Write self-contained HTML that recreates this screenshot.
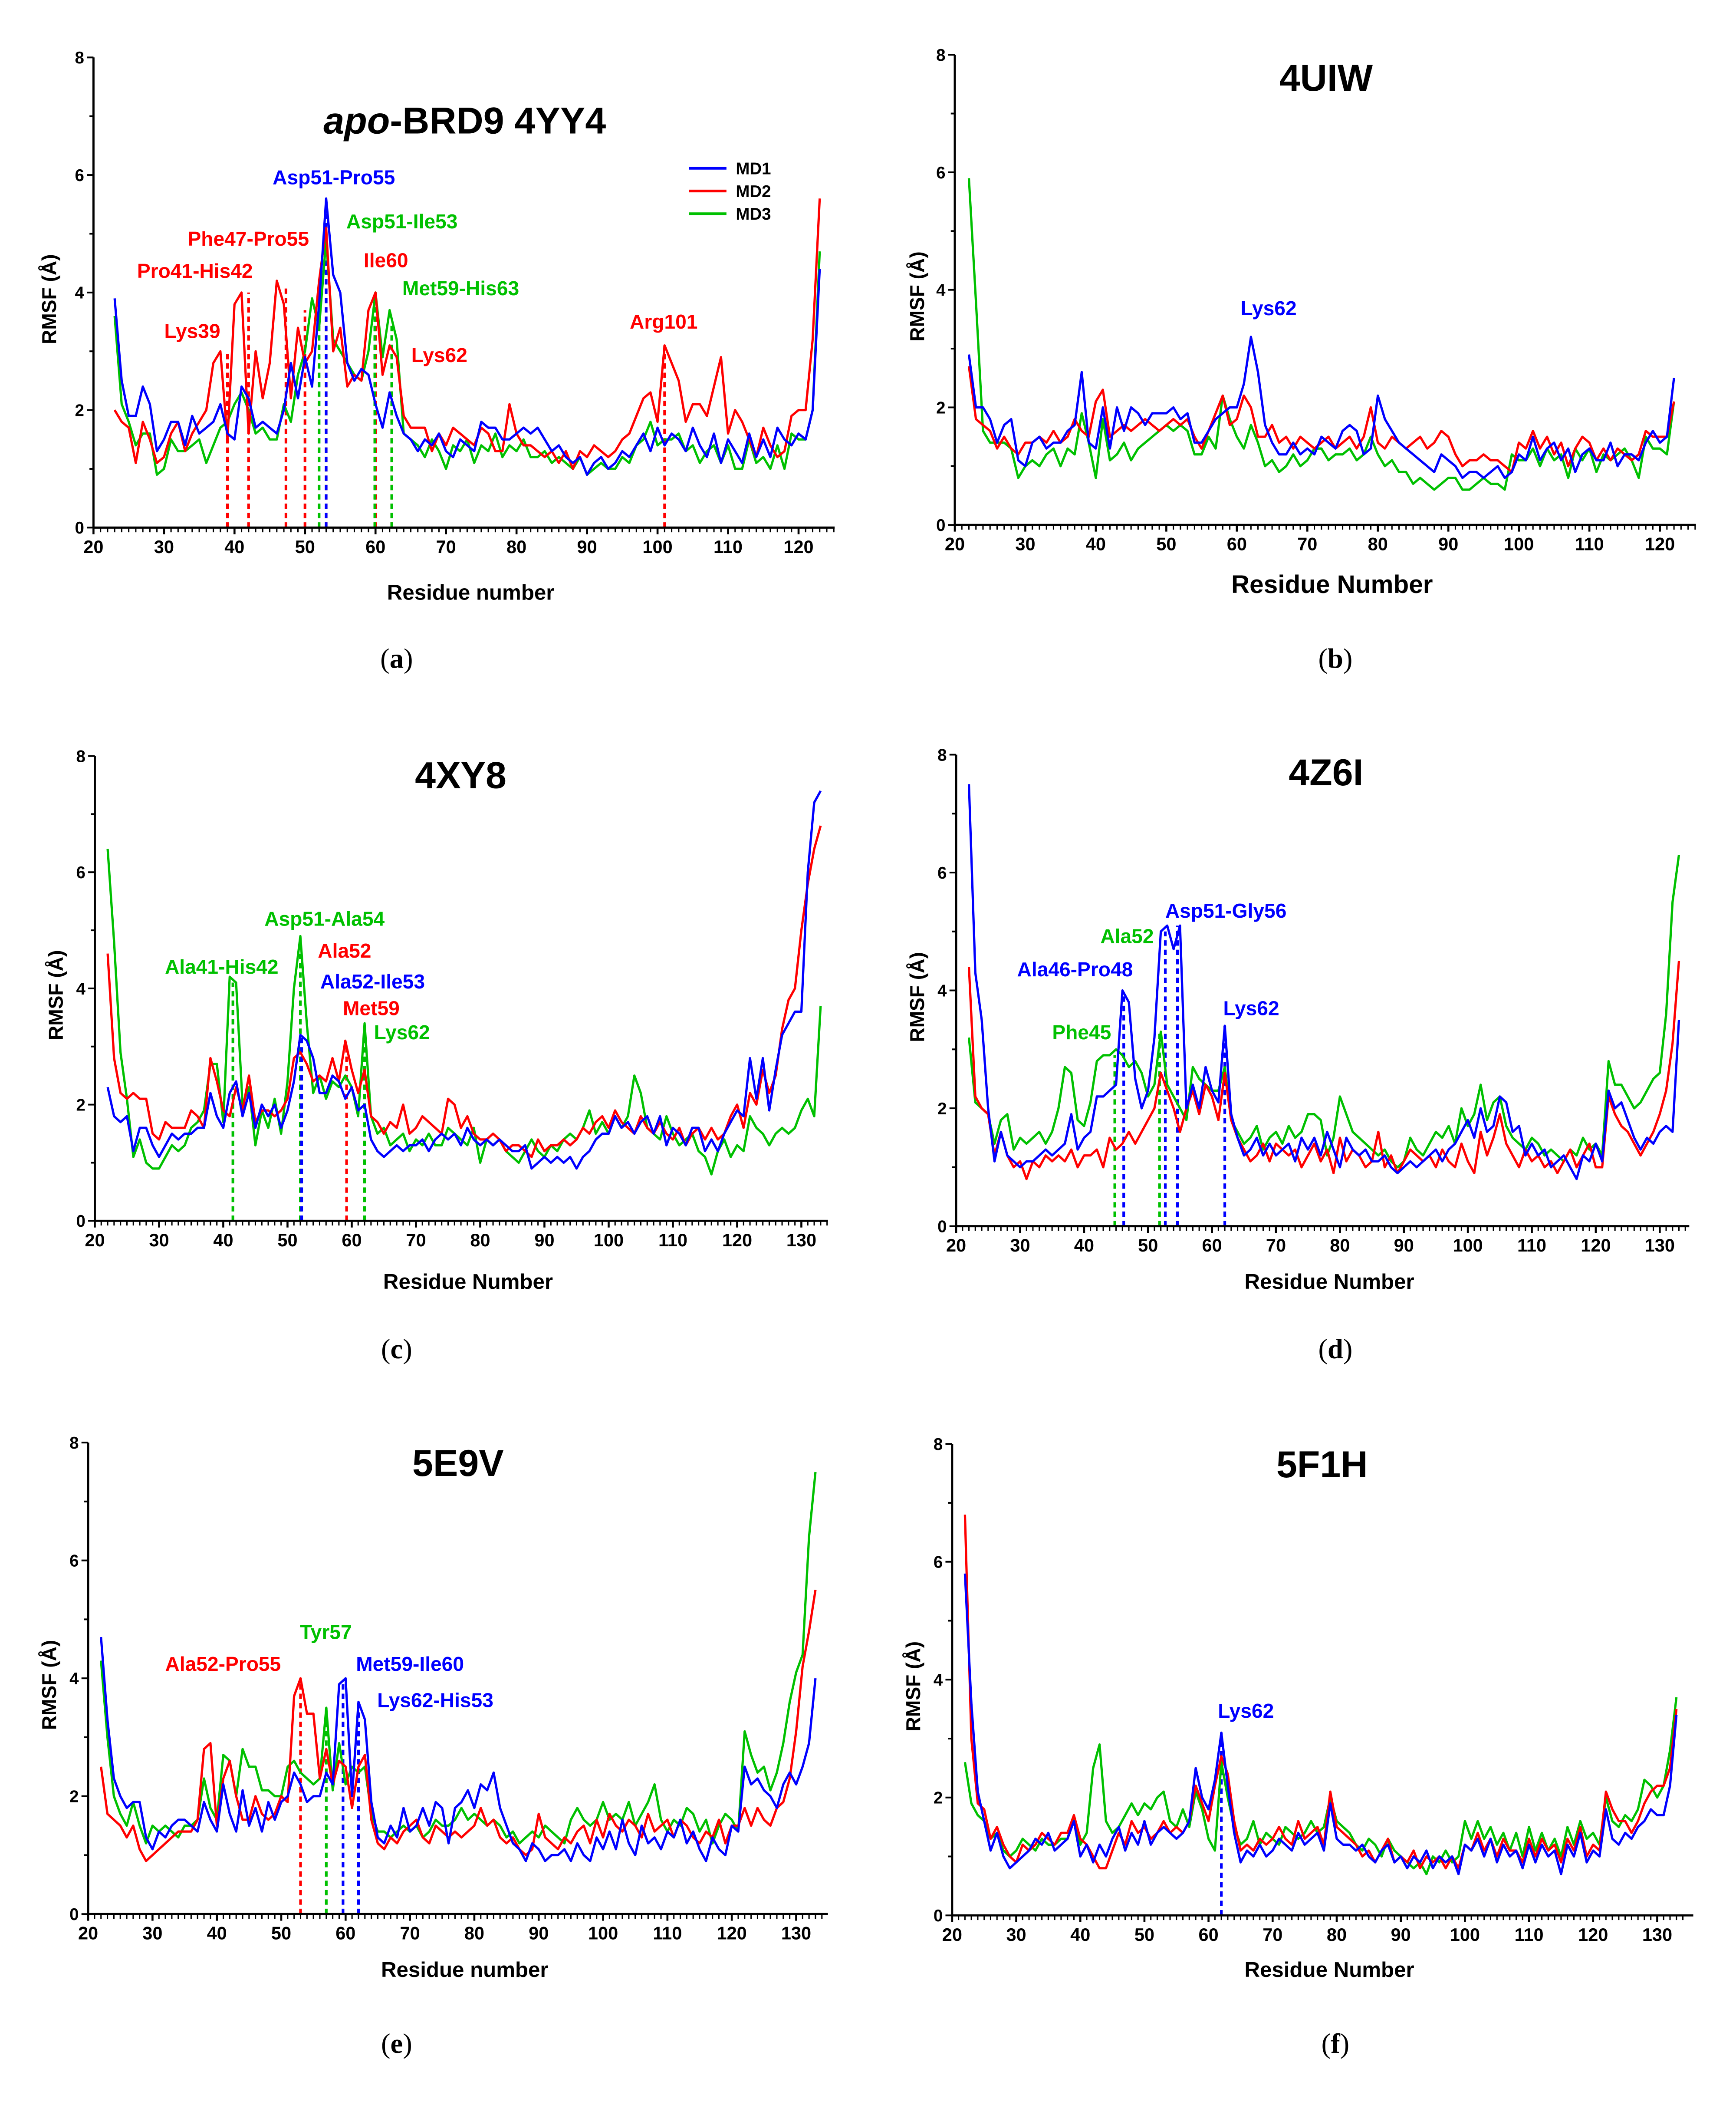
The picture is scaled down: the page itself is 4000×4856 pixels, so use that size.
<!DOCTYPE html>
<html><head><meta charset="utf-8"><style>
html,body{margin:0;padding:0;background:#fff;}
svg{display:block;}
text{font-family:"Liberation Sans",Arial,sans-serif;}
</style></head><body>
<svg id="fig" xmlns="http://www.w3.org/2000/svg" width="4000" height="4856" viewBox="0 0 1300 1578.2">
<rect width="1300" height="1578.2" fill="#fff"/>
</svg>
<script>
// ---------- DATA ----------
const aStart = 23;
const aMD1 = [3.9,2.5,1.9,1.9,2.4,2.1,1.3,1.5,1.8,1.8, 1.4,1.9,1.6,1.7,1.8,2.1,1.6,1.5,2.4,2.2, 1.7,1.8,1.7,1.6,2.0,2.8,2.2,2.9,2.4,3.8, 5.6,4.3,4.0,2.8,2.5,2.7,2.6,2.1,1.7,2.3, 1.9,1.6,1.5,1.3,1.5,1.4,1.6,1.3,1.2,1.5, 1.4,1.3,1.8,1.7,1.7,1.5,1.5,1.6,1.7,1.6, 1.7,1.5,1.3,1.4,1.2,1.1,1.2,0.9,1.1,1.2, 1.0,1.1,1.3,1.2,1.4,1.6,1.3,1.7,1.4,1.6, 1.5,1.3,1.7,1.4,1.2,1.6,1.1,1.5,1.3,1.1, 1.6,1.2,1.5,1.2,1.7,1.5,1.4,1.6,1.5,2.0, 4.4];
const aMD2 = [2.0,1.8,1.7,1.1,1.8,1.5,1.1,1.2,1.6,1.8, 1.3,1.6,1.8,2.0,2.8,3.0,1.5,3.8,4.0,1.6, 3.0,2.2,2.8,4.2,3.8,2.2,3.4,2.8,3.0,4.2, 5.1,3.0,3.4,2.4,2.6,2.5,3.7,4.0,2.6,3.1, 2.9,1.9,1.7,1.7,1.7,1.3,1.6,1.4,1.7,1.6, 1.5,1.4,1.7,1.6,1.3,1.3,2.1,1.6,1.4,1.4, 1.3,1.2,1.3,1.1,1.3,1.0,1.3,1.2,1.4,1.3, 1.2,1.3,1.5,1.6,1.9,2.2,2.3,1.8,3.1,2.8, 2.5,1.8,2.1,2.1,1.9,2.4,2.9,1.6,2.0,1.8, 1.5,1.2,1.7,1.4,1.2,1.3,1.9,2.0,2.0,3.2, 5.6];
const aMD3 = [3.6,2.1,1.8,1.4,1.6,1.6,0.9,1.0,1.5,1.3, 1.3,1.4,1.5,1.1,1.4,1.7,1.8,2.1,2.3,2.0, 1.6,1.7,1.5,1.5,2.1,1.8,2.6,3.0,3.9,3.4, 4.9,3.2,3.0,2.8,2.6,2.5,3.0,4.0,2.9,3.7, 3.2,1.6,1.5,1.4,1.2,1.5,1.3,1.0,1.4,1.3, 1.5,1.1,1.4,1.3,1.6,1.2,1.4,1.3,1.5,1.2, 1.2,1.3,1.1,1.2,1.1,1.0,1.2,0.9,1.0,1.1, 1.0,1.0,1.2,1.1,1.4,1.5,1.8,1.4,1.5,1.5, 1.6,1.3,1.4,1.1,1.3,1.4,1.1,1.4,1.0,1.0, 1.5,1.1,1.2,1.0,1.4,1.0,1.6,1.5,1.5,2.0, 4.7];

const bStart = 22;
const bMD1 = [2.9,2.0,2.0,1.8,1.4,1.7,1.8,1.1,1.0,1.4, 1.5,1.3,1.4,1.4,1.6,1.7,2.6,1.4,1.3,2.0, 1.3,2.0,1.6,2.0,1.9,1.7,1.9,1.9,1.9,2.0, 1.8,1.9,1.4,1.4,1.6,1.8,1.9,2.0,2.0,2.4, 3.2,2.6,1.7,1.4,1.2,1.2,1.4,1.2,1.3,1.2, 1.5,1.4,1.3,1.6,1.7,1.6,1.2,1.3,2.2,1.8, 1.6,1.4,1.3,1.2,1.1,1.0,0.9,1.2,1.1,1.0, 0.8,0.9,0.9,0.8,0.9,1.0,0.8,0.9,1.2,1.1, 1.5,1.1,1.3,1.4,1.1,1.3,0.9,1.2,1.3,1.1, 1.1,1.4,1.0,1.2,1.2,1.1,1.4,1.6,1.4,1.5, 2.5];
const bMD2 = [2.7,1.8,1.7,1.6,1.3,1.5,1.3,1.2,1.4,1.4, 1.5,1.4,1.6,1.4,1.5,1.8,1.6,1.5,2.1,2.3, 1.5,1.6,1.7,1.6,1.7,1.8,1.7,1.6,1.7,1.8, 1.7,1.8,1.5,1.3,1.6,1.9,2.2,1.7,1.8,2.2, 2.0,1.5,1.5,1.7,1.4,1.5,1.3,1.5,1.4,1.3, 1.4,1.5,1.3,1.4,1.5,1.3,1.5,2.0,1.4,1.3, 1.5,1.4,1.3,1.4,1.5,1.3,1.4,1.6,1.5,1.2, 1.0,1.1,1.1,1.2,1.1,1.1,1.0,0.9,1.4,1.3, 1.6,1.3,1.5,1.2,1.4,1.0,1.3,1.5,1.4,1.1, 1.3,1.1,1.3,1.2,1.1,1.2,1.6,1.5,1.5,1.5, 2.1];
const bMD3 = [5.9,3.8,1.6,1.4,1.4,1.4,1.3,0.8,1.0,1.1, 1.0,1.2,1.3,1.0,1.3,1.2,1.9,1.4,0.8,1.8, 1.1,1.2,1.4,1.1,1.3,1.4,1.5,1.6,1.7,1.6, 1.7,1.6,1.2,1.2,1.5,1.3,2.2,1.8,1.5,1.3, 1.7,1.4,1.0,1.1,0.9,1.0,1.2,1.0,1.1,1.3, 1.3,1.1,1.2,1.2,1.3,1.1,1.2,1.5,1.2,1.0, 1.1,0.9,0.9,0.7,0.8,0.7,0.6,0.7,0.8,0.8, 0.6,0.6,0.7,0.8,0.7,0.7,0.6,1.2,1.1,1.1, 1.3,1.0,1.3,1.1,1.2,0.8,1.3,1.1,1.3,0.9, 1.2,1.1,1.2,1.3,1.1,0.8,1.5,1.3,1.3,1.2, 2.1];

const cStart = 22;
const cMD1 = [2.3,1.8,1.7,1.8,1.2,1.6,1.6,1.3,1.1,1.3, 1.5,1.4,1.5,1.5,1.6,1.6,2.2,1.8,1.6,2.2, 2.4,1.8,2.2,1.6,2.0,1.8,2.0,1.6,1.9,2.4, 3.2,3.1,2.8,2.2,2.2,2.5,2.4,2.1,2.3,1.9, 2.0,1.4,1.2,1.1,1.2,1.3,1.2,1.3,1.3,1.4, 1.2,1.4,1.5,1.4,1.5,1.3,1.6,1.4,1.3,1.4, 1.3,1.4,1.3,1.2,1.2,1.3,0.9,1.0,1.1,1.0, 1.1,1.0,1.1,0.9,1.1,1.2,1.4,1.5,1.5,1.8, 1.6,1.7,1.5,1.7,1.8,1.5,1.8,1.3,1.6,1.5, 1.3,1.6,1.6,1.2,1.4,1.2,1.5,1.7,1.9,1.8, 2.8,2.1,2.8,1.9,2.6,3.2,3.4,3.6,3.6,6.0, 7.2,7.4];
const cMD2 = [4.6,2.8,2.2,2.1,2.2,2.1,2.1,1.5,1.4,1.7, 1.6,1.6,1.6,1.9,1.8,1.6,2.8,2.4,1.9,1.8, 2.3,1.9,2.5,1.7,1.9,1.9,1.8,1.9,2.1,2.8, 2.9,2.7,2.4,2.5,2.4,2.8,2.4,3.1,2.6,2.2, 2.6,1.8,1.7,1.5,1.7,1.6,2.0,1.5,1.6,1.8, 1.7,1.6,1.5,2.1,2.0,1.6,1.8,1.5,1.4,1.4, 1.5,1.4,1.2,1.3,1.3,1.2,1.1,1.4,1.2,1.3, 1.3,1.4,1.3,1.4,1.6,1.5,1.7,1.8,1.6,1.9, 1.7,1.6,1.5,1.8,1.6,1.5,1.7,1.5,1.4,1.6, 1.3,1.5,1.6,1.4,1.6,1.4,1.5,1.8,2.0,1.6, 2.2,2.0,2.6,2.2,2.5,3.3,3.8,4.0,5.0,5.8, 6.4,6.8];
const cMD3 = [6.4,4.8,2.9,2.1,1.1,1.4,1.0,0.9,0.9,1.1, 1.3,1.2,1.3,1.6,1.7,1.9,2.7,2.7,1.7,4.2, 4.1,2.0,2.3,1.3,1.9,1.6,2.1,1.5,2.4,4.0, 4.9,3.4,2.2,2.5,2.1,2.4,2.3,2.5,2.3,1.8, 3.4,1.8,1.5,1.6,1.3,1.4,1.5,1.2,1.4,1.3, 1.5,1.3,1.3,1.6,1.5,1.4,1.3,1.6,1.0,1.4, 1.3,1.4,1.2,1.1,1.0,1.2,1.4,1.2,1.1,1.3, 1.2,1.4,1.5,1.4,1.6,1.9,1.5,1.7,1.5,1.8, 1.6,1.8,2.5,2.2,1.6,1.5,1.4,1.8,1.5,1.3, 1.4,1.5,1.2,1.1,0.8,1.2,1.4,1.1,1.3,1.2, 1.8,1.6,1.5,1.3,1.5,1.6,1.5,1.6,1.9,2.1, 1.8,3.7];

const dStart = 22;
const dMD1 = [7.5,4.3,3.5,2.0,1.1,1.6,1.2,1.1,1.0,1.1, 1.1,1.2,1.3,1.2,1.3,1.4,1.9,1.3,1.5,1.6, 2.2,2.2,2.3,2.4,4.0,3.8,2.5,2.0,2.3,3.2, 5.0,5.1,4.7,5.1,2.0,2.4,2.0,2.7,2.3,2.1, 3.4,1.9,1.5,1.2,1.3,1.5,1.2,1.4,1.2,1.3, 1.4,1.1,1.5,1.3,1.5,1.2,1.6,1.3,1.0,1.5, 1.3,1.2,1.3,1.1,1.1,1.2,1.0,0.9,1.0,1.1, 1.0,1.1,1.2,1.3,1.1,1.3,1.4,1.6,1.8,1.5, 2.0,1.6,1.7,2.2,2.1,1.6,1.7,1.2,1.4,1.2, 1.3,1.0,1.1,1.2,1.0,0.8,1.2,1.1,1.4,1.1, 2.3,2.0,2.1,1.8,1.5,1.3,1.5,1.4,1.6,1.7, 1.6,3.5];
const dMD2 = [4.4,2.2,2.0,1.9,1.2,1.6,1.2,1.0,1.1,0.8, 1.1,1.0,1.2,1.1,1.2,1.1,1.3,1.0,1.2,1.2, 1.3,1.0,1.5,1.3,1.4,1.6,1.4,1.6,1.8,2.0, 2.6,2.3,2.0,1.6,2.0,2.3,1.9,2.4,2.2,1.8, 2.6,1.8,1.5,1.3,1.1,1.2,1.4,1.1,1.4,1.3, 1.2,1.3,1.0,1.2,1.4,1.1,1.3,0.9,1.5,1.1, 1.3,1.2,1.0,1.1,1.6,1.0,1.2,0.9,1.1,1.3, 1.2,1.1,1.2,1.0,1.3,1.1,1.0,1.4,1.1,0.9, 1.6,1.2,1.5,1.9,1.4,1.2,1.0,1.3,1.1,1.2, 1.0,1.1,0.9,1.1,1.3,1.0,1.2,1.4,1.0,1.0, 2.2,1.9,1.7,1.6,1.4,1.2,1.4,1.6,1.9,2.3, 3.1,4.5];
const dMD3 = [3.2,2.1,2.0,1.9,1.4,1.8,1.9,1.3,1.5,1.4, 1.5,1.6,1.4,1.6,2.0,2.7,2.6,1.8,1.7,2.1, 2.8,2.9,2.9,3.0,2.9,2.7,2.8,2.6,2.2,2.4, 3.3,2.4,2.2,2.0,1.8,2.7,2.5,2.4,2.3,2.3, 2.7,1.8,1.6,1.4,1.5,1.7,1.3,1.5,1.6,1.4, 1.7,1.5,1.6,1.9,1.9,1.8,1.2,1.5,2.2,1.9, 1.6,1.5,1.4,1.3,1.2,1.3,1.1,1.0,1.1,1.5, 1.3,1.2,1.4,1.6,1.5,1.7,1.4,2.0,1.7,1.9, 2.4,1.8,2.1,2.2,1.7,1.5,1.4,1.3,1.5,1.4, 1.2,1.3,1.2,1.1,1.3,1.2,1.5,1.3,1.4,1.2, 2.8,2.4,2.4,2.2,2.0,2.1,2.3,2.5,2.6,3.6, 5.5,6.3];

const eStart = 22;
const eMD1 = [4.7,3.3,2.3,2.0,1.8,1.9,1.9,1.3,1.1,1.4, 1.3,1.5,1.6,1.6,1.5,1.4,1.9,1.6,1.4,2.2, 1.7,1.4,2.1,1.5,1.8,1.4,1.9,1.6,1.9,2.0, 2.4,2.2,1.9,2.0,2.0,2.4,2.2,3.9,4.0,2.0, 3.6,3.3,1.9,1.3,1.2,1.5,1.3,1.8,1.4,1.5, 1.8,1.5,1.9,1.8,1.2,1.8,1.9,2.1,1.8,2.2, 2.1,2.4,1.8,1.5,1.2,1.1,0.9,1.2,1.1,0.9, 1.0,1.0,1.1,0.9,1.2,1.0,0.9,1.3,1.1,1.4, 1.1,1.6,1.2,1.0,1.5,1.2,1.3,1.1,1.4,1.3, 1.6,1.2,1.4,1.1,0.9,1.3,1.1,1.0,1.5,1.4, 2.5,2.2,2.3,2.1,2.0,1.8,2.2,2.4,2.2,2.5, 2.9,4.0];
const eMD2 = [2.5,1.7,1.6,1.5,1.3,1.5,1.1,0.9,1.0,1.1, 1.2,1.3,1.4,1.4,1.4,1.6,2.8,2.9,1.5,2.3, 2.6,2.0,1.6,1.6,2.0,1.7,1.6,1.7,2.0,1.9, 3.7,4.0,3.4,3.4,2.3,2.8,2.2,2.6,2.5,1.8, 2.5,2.7,1.6,1.2,1.1,1.3,1.2,1.4,1.5,1.6, 1.3,1.2,1.5,1.4,1.3,1.4,1.3,1.4,1.5,1.8, 1.5,1.6,1.3,1.2,1.3,1.1,1.0,1.1,1.7,1.3, 1.2,1.1,1.3,1.2,1.4,1.5,1.2,1.6,1.3,1.7, 1.5,1.4,1.6,1.5,1.3,1.7,1.4,1.5,1.6,1.3, 1.6,1.5,1.3,1.2,1.4,1.3,1.6,1.2,1.5,1.5, 1.8,1.5,1.8,1.6,1.5,1.8,1.9,2.3,3.1,4.2, 4.8,5.5];
const eMD3 = [4.3,3.0,2.0,1.7,1.5,1.9,1.5,1.2,1.5,1.4, 1.5,1.4,1.3,1.5,1.5,1.6,2.3,1.8,1.6,2.7, 2.6,2.0,2.8,2.5,2.5,2.1,2.1,2.0,2.0,2.5, 2.6,2.4,2.3,2.2,2.3,3.5,2.1,2.9,2.2,2.5, 2.4,2.5,1.7,1.4,1.4,1.3,1.4,1.5,1.4,1.5, 1.3,1.4,1.6,1.5,1.5,1.6,1.8,1.6,1.7,1.6, 1.5,1.6,1.5,1.3,1.4,1.2,1.3,1.4,1.3,1.5, 1.4,1.3,1.2,1.6,1.8,1.6,1.5,1.6,1.9,1.6, 1.7,1.6,1.9,1.5,1.7,1.9,2.2,1.6,1.4,1.6, 1.5,1.8,1.7,1.4,1.6,1.2,1.5,1.7,1.6,1.4, 3.1,2.7,2.4,2.5,2.1,2.4,2.9,3.6,4.1,4.4, 6.4,7.5];

const fStart = 22;
const fMD1 = [5.8,3.6,2.1,1.6,1.1,1.4,1.0,0.8,0.9,1.0, 1.1,1.3,1.2,1.4,1.1,1.2,1.3,1.6,1.0,1.2, 0.9,1.2,1.0,1.3,1.5,1.1,1.4,1.2,1.6,1.2, 1.4,1.5,1.4,1.3,1.4,1.6,2.5,2.0,1.8,2.3, 3.1,2.2,1.4,0.9,1.1,1.0,1.2,1.0,1.1,1.3, 1.2,1.1,1.4,1.2,1.3,1.4,1.1,1.9,1.3,1.2, 1.2,1.1,1.2,1.0,0.9,1.1,1.2,0.9,1.0,0.8, 1.0,0.9,1.1,0.8,1.0,0.9,1.0,0.7,1.2,1.1, 1.3,1.0,1.3,0.9,1.2,1.0,1.1,0.8,1.2,0.9, 1.2,1.0,1.1,0.7,1.2,1.0,1.4,0.9,1.1,1.0, 1.8,1.3,1.2,1.4,1.3,1.5,1.6,1.8,1.7,1.7, 2.2,3.4];
const fMD2 = [6.8,3.0,1.9,1.8,1.3,1.5,1.2,1.0,0.9,1.2, 1.1,1.2,1.4,1.3,1.2,1.4,1.4,1.7,1.3,1.2, 1.0,0.8,0.8,1.1,1.4,1.2,1.6,1.4,1.5,1.3, 1.4,1.6,1.4,1.5,1.4,1.6,2.2,1.9,1.6,2.2, 2.7,2.4,1.6,1.1,1.2,1.1,1.3,1.2,1.3,1.5, 1.3,1.2,1.6,1.3,1.4,1.5,1.2,2.1,1.5,1.4, 1.3,1.2,1.0,1.1,0.9,1.1,1.3,0.9,1.0,0.9, 1.1,0.8,1.0,0.9,1.0,0.8,1.0,0.8,1.2,1.1, 1.4,1.1,1.3,1.0,1.3,1.1,1.1,0.9,1.3,1.0, 1.3,1.1,1.2,0.9,1.3,1.1,1.5,1.0,1.2,1.1, 2.1,1.8,1.6,1.6,1.4,1.6,1.9,2.1,2.2,2.2, 2.5,3.5];
const fMD3 = [2.6,1.9,1.7,1.6,1.3,1.4,1.1,1.0,1.1,1.3, 1.2,1.1,1.3,1.2,1.2,1.3,1.3,1.7,1.2,1.4, 2.5,2.9,1.6,1.4,1.5,1.7,1.9,1.7,1.9,1.8, 2.0,2.1,1.6,1.5,1.8,1.5,2.1,1.8,1.3,1.1, 2.6,2.0,1.5,1.2,1.3,1.6,1.2,1.4,1.3,1.2, 1.5,1.4,1.3,1.4,1.6,1.4,1.5,2.0,1.6,1.5, 1.4,1.2,1.1,1.3,1.2,1.0,1.3,1.1,1.0,0.9, 0.8,0.9,0.7,1.0,0.9,1.1,0.9,1.0,1.6,1.3, 1.6,1.3,1.5,1.2,1.4,1.1,1.4,1.0,1.5,1.1, 1.4,1.1,1.3,1.0,1.5,1.2,1.6,1.3,1.4,1.2, 2.0,1.6,1.5,1.7,1.6,1.8,2.3,2.2,2.0,2.2, 2.8,3.7];

const yTicks = [0,2,4,6,8];
const abTicks = [20,30,40,50,60,70,80,90,100,110,120];
const cfTicks = [20,30,40,50,60,70,80,90,100,110,120,130];

// annotations: residue, top value, color
const aDashRes = [39,42,47.3,50,53,53,52,60,59.9,62.3,62.3,101];
const aDashTop = [3.0,4.0,4.1,3.7,5.0,5.5,3.9,4.0,3.9,3.1,3.5,3.1];
const aDashCol = ['r','r','r','r','r','b','g','r','g','r','g','r'];
const cDashRes = [41.5,52,52.2,59.2,62];
const cDashTop = [4.1,4.8,3.2,3.0,3.3];
const cDashCol = ['g','g','b','r','g'];
const dDashRes = [44.8,46.2,51.8,52.7,54.6,62];
const dDashTop = [2.9,3.9,3.3,5.0,5.1,3.4];
const dDashCol = ['g','b','g','b','b','b'];
const eDashRes = [53,57,59.6,62];
const eDashTop = [4.0,3.5,3.9,3.6];
const eDashCol = ['r','g','b','b'];
const fDashRes = [62];
const fDashTop = [3.1];
const fDashCol = ['b'];

// ---------- DRAW ----------
const NS = 'http://www.w3.org/2000/svg';
const svg = document.getElementById('fig');
const COL = {b:'#0000ff', r:'#ff0000', g:'#00c000'};
function mk(tag, attrs, parent){
  const e = document.createElementNS(NS, tag);
  for (const k in attrs) e.setAttribute(k, attrs[k]);
  (parent||svg).appendChild(e);
  return e;
}

const panels = [
 {id:'a', x20:70, ppr:5.28, xEnd:625, y0:395, y8:43, ticks:abTicks, xMin:20, xMax:125, start:aStart, s:[aMD1,aMD2,aMD3], dr:aDashRes, dt:aDashTop, dc:aDashCol, xt:'Residue number', xtSize:16, xtY:449, tx:348, ty:100, title:'4YY4', lbl:'(a)', lx:297, ly:500, ylab:42},
 {id:'b', x20:715, ppr:5.28, xEnd:1270, y0:393, y8:41, ticks:abTicks, xMin:20, xMax:125, start:bStart, s:[bMD1,bMD2,bMD3], dr:[], dt:[], dc:[], xt:'Residue Number', xtSize:19, xtY:444, tx:993, ty:68, title:'4UIW', lbl:'(b)', lx:1000, ly:500, ylab:692},
 {id:'c', x20:71, ppr:4.81, xEnd:620, y0:914, y8:566, ticks:cfTicks, xMin:20, xMax:134, start:cStart, s:[cMD1,cMD2,cMD3], dr:cDashRes, dt:cDashTop, dc:cDashCol, xt:'Residue Number', xtSize:16, xtY:965, tx:345, ty:590, title:'4XY8', lbl:'(c)', lx:297, ly:1017, ylab:47},
 {id:'d', x20:716, ppr:4.79, xEnd:1265, y0:918, y8:565, ticks:cfTicks, xMin:20, xMax:134, start:dStart, s:[dMD1,dMD2,dMD3], dr:dDashRes, dt:dDashTop, dc:dDashCol, xt:'Residue Number', xtSize:16, xtY:965, tx:993, ty:588, title:'4Z6I', lbl:'(d)', lx:1000, ly:1017, ylab:692},
 {id:'e', x20:66, ppr:4.82, xEnd:620, y0:1433, y8:1080, ticks:cfTicks, xMin:20, xMax:134, start:eStart, s:[eMD1,eMD2,eMD3], dr:eDashRes, dt:eDashTop, dc:eDashCol, xt:'Residue number', xtSize:16, xtY:1480, tx:343, ty:1105, title:'5E9V', lbl:'(e)', lx:297, ly:1537, ylab:42},
 {id:'f', x20:713, ppr:4.80, xEnd:1268, y0:1434, y8:1081, ticks:cfTicks, xMin:20, xMax:134, start:fStart, s:[fMD1,fMD2,fMD3], dr:fDashRes, dt:fDashTop, dc:fDashCol, xt:'Residue Number', xtSize:16, xtY:1480, tx:990, ty:1106, title:'5F1H', lbl:'(f)', lx:1000, ly:1537, ylab:689}
];

panels.forEach(p=>{
  const xs = r => p.x20 + (r-20)*p.ppr;
  const ys = v => p.y0 - v*(p.y0-p.y8)/8;
  const g = mk('g',{});
  
  
  // dashed lines (behind series)
  p.dr.forEach((r,i)=>{
    const l = mk('line',{x1:xs(r),x2:xs(r),y1:p.y0,y2:ys(p.dt[i]),stroke:COL[p.dc[i]],'stroke-width':2,'stroke-dasharray':'4,3'},g);
    
    
  });
  // series
  const cols = ['b','r','g'];
  const order = [2,1,0];
  order.forEach(k=>{
    const arr = p.s[k];
    const pts = arr.map((v,i)=> xs(p.start+i).toFixed(2)+','+ys(v).toFixed(2)).join(' ');
    const pl = mk('polyline',{points:pts,fill:'none',stroke:COL[cols[k]],'stroke-width':1.7,'stroke-linejoin':'round'},g);
    
    
  });
  // axes
  const xa = mk('line',{x1:p.x20,x2:p.xEnd,y1:p.y0,y2:p.y0,stroke:'#000','stroke-width':1.6},g);
  
  
  const ya = mk('line',{x1:p.x20,x2:p.x20,y1:p.y0,y2:p.y8,stroke:'#000','stroke-width':1.6},g);
  
  
  for(let r=p.xMin;r<=p.xMax;r++){
    const major = r%10===0;
    mk('line',{x1:xs(r),x2:xs(r),y1:p.y0,y2:p.y0+(major?5:3.5),stroke:'#000','stroke-width':major?1.5:1},g);
  }
  p.ticks.forEach(t=>{
    const tx = mk('text',{x:xs(t),y:p.y0+19,'text-anchor':'middle','font-size':13.5,'font-weight':'bold'},g);
    tx.textContent = t;
    
    
  });
  for(let v=0;v<=8;v++){
    mk('line',{x1:p.x20,x2:p.x20-(v%2===0?5:3),y1:ys(v),y2:ys(v),stroke:'#000','stroke-width':1.3},g);
  }
  yTicks.forEach(v=>{
    const tx = mk('text',{x:p.x20-7,y:ys(v)+4.5,'text-anchor':'end','font-size':12.5,'font-weight':'bold'},g);
    tx.textContent = v;
    
    
  });
  const yt = mk('text',{x:p.ylab,y:(p.y0+p.y8)/2+5,'text-anchor':'middle','font-size':15,'font-weight':'bold',transform:'rotate(-90 '+p.ylab+' '+((p.y0+p.y8)/2+5)+')'},g);
  yt.textContent = 'RMSF (Å)';
  
  
  const xt = mk('text',{x:(p.x20+p.xEnd)/2+5,y:p.xtY,'text-anchor':'middle','font-size':p.xtSize,'font-weight':'bold'},g);
  xt.textContent = p.xt;
  
  
  const tt = mk('text',{x:p.tx,y:p.ty,'text-anchor':'middle','font-size':28,'font-weight':'bold'},g);
  if(p.id==='a'){
    tt.innerHTML = '<tspan font-style="italic">apo</tspan>-BRD9 4YY4';
  } else tt.textContent = p.title;
  
  
  const pl = mk('text',{x:p.lx,y:p.ly,'text-anchor':'middle','font-size':21,style:'font-family:"Liberation Serif",serif'},g);
  pl.innerHTML = '(<tspan font-weight="bold">'+p.id+'</tspan>)';
  
  
});

// legend in panel a
const legNames = ['MD1','MD2','MD3'];
const legCols = ['b','r','g'];
legNames.forEach((n,i)=>{
  const y = 126 + i*17;
  const l = mk('line',{x1:516,x2:544,y1:y,y2:y,stroke:COL[legCols[i]],'stroke-width':2});
  
  
  const t = mk('text',{x:551,y:y+4.5,'font-size':12.5,'font-weight':'bold'});
  t.textContent = n;
  
  
});

// annotation labels
const annText = ['Asp51-Pro55','Asp51-Ile53','Phe47-Pro55','Ile60','Pro41-His42','Met59-His63','Lys39','Lys62','Arg101',
 'Lys62',
 'Asp51-Ala54','Ala41-His42','Ala52','Ala52-Ile53','Met59','Lys62',
 'Asp51-Gly56','Ala52','Ala46-Pro48','Lys62','Phe45',
 'Tyr57','Ala52-Pro55','Met59-Ile60','Lys62-His53',
 'Lys62'];
const annX = [250,301,186,289,146,345,144,329,497, 950, 243,166,258,279,278,301, 918,844,805,937,810, 244,167,307,326, 933];
const annY = [133,166,179,195,203,216,248,266,241, 231, 688,724,712,735,755,773, 682,701,726,755,773, 1222,1246,1246,1273, 1281];
const annC = ['b','g','r','r','r','g','r','r','r', 'b', 'g','g','r','b','r','g', 'b','g','b','b','g', 'g','r','b','b', 'b'];
annText.forEach((s,i)=>{
  const t = mk('text',{x:annX[i],y:annY[i]+5,'text-anchor':'middle','font-size':15,'font-weight':'bold',fill:COL[annC[i]]});
  t.textContent = s;
  
  
});
</script>
</body></html>
